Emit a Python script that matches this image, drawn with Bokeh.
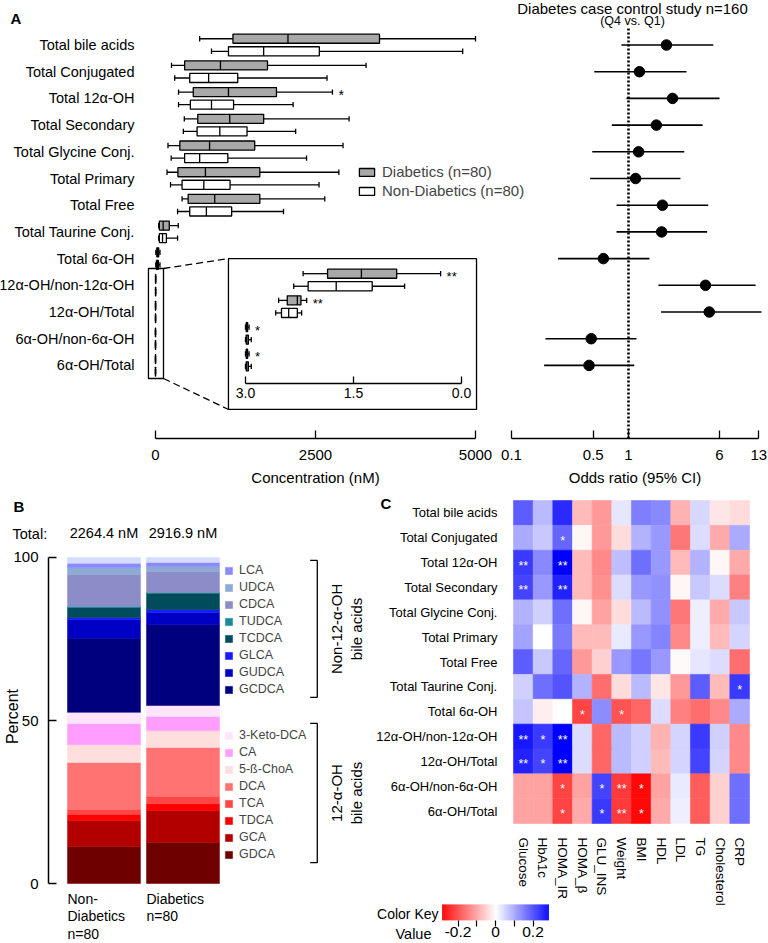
import math
import numpy as np
from bokeh.plotting import figure
from bokeh.layouts import row, column
from bokeh.models import (Range1d, FixedTicker, Label, Legend, LegendItem, ColumnDataSource,
                          LinearColorMapper, LinearAxis, LogAxis, LogScale)
from bokeh.transform import transform
from bokeh.core.properties import value
from bokeh.embed import file_html
from bokeh.resources import INLINE

FONT = "Liberation Sans"

# ---------------------------------------------------------------- data: panel A (box plots)
rows = ["Total bile acids", "Total Conjugated", "Total 12α-OH", "Total Secondary",
        "Total Glycine Conj.", "Total Primary", "Total Free", "Total Taurine Conj.",
        "Total 6α-OH", "12α-OH/non-12α-OH", "12α-OH/Total", "6α-OH/non-6α-OH", "6α-OH/Total"]
n_conc = 9  # first 9 rows are concentrations (nM); the others are ratios (shown in the inset)
dia_lo  = [690, 250, 360, 450, 195, 180, 415, 50, 5, 0.80, 0.46, 0.00, 0.00]
dia_q1  = [1210, 455, 590, 660, 380, 350, 510, 60, 20, 1.14, 0.58, 0.01, 0.01]
dia_med = [2070, 1015, 1140, 1160, 845, 780, 925, 120, 35, 1.61, 0.72, 0.02, 0.02]
dia_q3  = [3500, 1750, 1890, 1690, 1550, 1630, 1630, 215, 50, 2.10, 0.77, 0.03, 0.03]
dia_hi  = [5000, 3290, 2765, 3025, 2930, 2865, 2645, 355, 70, 2.71, 0.85, 0.05, 0.05]
non_lo  = [875, 300, 360, 435, 245, 235, 345, 50, 5, 0.67, 0.42, 0.00, 0.00]
non_q1  = [1140, 535, 545, 650, 455, 415, 535, 60, 15, 0.87, 0.50, 0.01, 0.01]
non_med = [1690, 830, 875, 1005, 690, 755, 795, 110, 30, 1.26, 0.60, 0.02, 0.02]
non_q3  = [2560, 1285, 1220, 1430, 1130, 1165, 1190, 170, 45, 1.76, 0.72, 0.04, 0.04]
non_hi  = [4800, 2680, 2150, 2190, 2360, 2555, 2000, 345, 70, 2.21, 0.78, 0.08, 0.08]
sig_marks = ["", "", "*", "", "", "", "", "", "", "**", "**", "*", "*"]
conc_ticks = [0, 2500, 5000]
inset_ticks = [0, 1.5, 3]
inset_tick_labels = {0: "3.0", 1.5: "1.5", 3: "0.0"}

# ---------------------------------------------------------------- data: forest plot
or_est = [2.11, 1.24, 2.38, 1.73, 1.22, 1.15, 1.95, 1.92, 0.61, 4.55, 4.90, 0.48, 0.46]
or_lo  = [0.87, 0.51, 0.96, 0.72, 0.49, 0.47, 0.79, 0.79, 0.25, 1.80, 1.90, 0.195, 0.19]
or_hi  = [5.30, 3.13, 6.00, 4.30, 3.00, 2.78, 4.80, 4.70, 1.51, 12.2, 13.7, 1.17, 1.12]
or_ticks = [0.1, 0.5, 1, 6, 13]

# ---------------------------------------------------------------- data: panel B (composition)
group_x = [0, 1]
group_labels = ["Non-\nDiabetics\nn=80", "Diabetics\nn=80"]
group_totals = ["2264.4 nM", "2916.9 nM"]
species = ["GDCA", "GCA", "TDCA", "TCA", "DCA", "5-ß-ChoA", "CA", "3-Keto-DCA",
           "GCDCA", "GUDCA", "GLCA", "TCDCA", "TUDCA", "CDCA", "UDCA", "LCA", "Other"]
pct_non = [11.3, 8.0, 1.9, 1.5, 14.4, 5.5, 6.5, 3.4, 22.7, 5.8, 0.6, 3.1, 0.3, 9.8, 2.1, 1.3, 1.8]
pct_dia = [12.6, 9.8, 2.1, 2.2, 15.0, 5.2, 4.3, 3.4, 24.8, 3.7, 0.9, 5.0, 0.3, 6.4, 1.5, 1.3, 1.5]
species_colors = ["#6e0000", "#b20000", "#ff0000", "#ff4545", "#ff7373", "#ffdede", "#ff9eff",
                  "#ffe4ff", "#00007f", "#0000c4", "#1a1aff", "#004c5c", "#1a8a9a", "#8c8cc8",
                  "#8fabd4", "#8a8aff", "#d6dcff"]
legend_non12 = ["LCA", "UDCA", "CDCA", "TUDCA", "TCDCA", "GLCA", "GUDCA", "GCDCA"]
legend_12 = ["3-Keto-DCA", "CA", "5-ß-ChoA", "DCA", "TCA", "TDCA", "GCA", "GDCA"]
pct_ticks = [0, 50, 100]

# ---------------------------------------------------------------- data: panel C (correlations)
heat_cols = ["Glucose", "HbA1c", "HOMA_IR", "HOMA_β", "GLU_INS", "Weight", "BMI", "HDL",
             "LDL", "TG", "Cholesterol", "CRP"]
corr = [
    [0.19, 0.08, 0.25, -0.08, -0.12, 0.03, 0.15, 0.14, -0.09, 0.045, -0.03, -0.04],
    [0.10, 0.065, 0.18, -0.01, -0.12, -0.04, 0.09, 0.12, -0.16, 0.04, -0.10, 0.10],
    [0.23, 0.14, 0.30, -0.08, -0.14, 0.075, 0.17, 0.12, -0.08, 0.09, -0.01, -0.10],
    [0.22, 0.12, 0.26, -0.08, -0.13, 0.04, 0.12, 0.13, -0.01, 0.065, 0.04, -0.15],
    [0.09, 0.055, 0.17, -0.01, -0.11, -0.04, 0.08, 0.13, -0.16, 0.02, -0.10, 0.065],
    [0.11, 0.0, 0.155, -0.08, -0.08, 0.025, 0.12, 0.145, -0.14, 0.02, -0.08, 0.05],
    [0.19, 0.065, 0.18, -0.12, -0.055, 0.12, 0.16, 0.12, -0.005, 0.03, 0.04, -0.17],
    [0.055, 0.17, 0.20, 0.09, -0.17, -0.04, 0.08, -0.03, -0.12, 0.19, -0.08, 0.23],
    [0.07, -0.02, 0.0, -0.22, 0.135, -0.20, -0.18, 0.04, -0.15, -0.17, -0.14, 0.10],
    [0.27, 0.23, 0.30, 0.04, -0.18, 0.08, 0.055, -0.09, 0.05, 0.23, 0.055, -0.14],
    [0.26, 0.22, 0.30, 0.04, -0.18, 0.08, 0.055, -0.08, 0.05, 0.22, 0.05, -0.14],
    [-0.11, -0.11, -0.22, -0.11, 0.22, -0.23, -0.29, -0.11, 0.025, -0.19, -0.055, 0.17],
    [-0.11, -0.11, -0.22, -0.10, 0.23, -0.23, -0.29, -0.10, 0.02, -0.19, -0.055, 0.17],
]
corr_sig = [
    ["", "", "", "", "", "", "", "", "", "", "", ""],
    ["", "", "*", "", "", "", "", "", "", "", "", ""],
    ["**", "", "**", "", "", "", "", "", "", "", "", ""],
    ["**", "", "**", "", "", "", "", "", "", "", "", ""],
    ["", "", "", "", "", "", "", "", "", "", "", ""],
    ["", "", "", "", "", "", "", "", "", "", "", ""],
    ["", "", "", "", "", "", "", "", "", "", "", ""],
    ["", "", "", "", "", "", "", "", "", "", "", "*"],
    ["", "", "", "*", "", "*", "", "", "", "", "", ""],
    ["**", "*", "**", "", "", "", "", "", "", "", "", ""],
    ["**", "*", "**", "", "", "", "", "", "", "", "", ""],
    ["", "", "*", "", "*", "**", "*", "", "", "", "", ""],
    ["", "", "*", "", "*", "**", "*", "", "", "", "", ""],
]
key_ticks = [-0.2, -0.1, 0, 0.1, 0.2]
key_labels = {-0.2: "-0.2", -0.1: "", 0: "0", 0.1: "", 0.2: "0.2"}

# ---------------------------------------------------------------- helpers
def base_fig(**kw):
    p = figure(output_backend="svg", toolbar_location=None, min_border_left=0,
               min_border_right=0, min_border_top=0, min_border_bottom=0, **kw)
    p.xgrid.visible = False
    p.ygrid.visible = False
    p.outline_line_color = None
    p.background_fill_color = "white"
    p.border_fill_color = "white"
    return p


def style_axis(ax, size="14px"):
    ax.major_label_text_font = FONT
    ax.major_label_text_font_size = size
    ax.major_label_text_color = "black"
    ax.axis_label_text_font = FONT
    ax.axis_label_text_font_size = size
    ax.axis_label_text_font_style = "normal"
    ax.axis_label_text_color = "black"
    ax.axis_line_color = "black"
    ax.major_tick_line_color = "black"
    ax.minor_tick_line_color = None


def label(p, x, y, text, size, align="left", baseline="middle", bold=False, angle=0.0):
    p.add_layout(Label(x=x, y=y, x_units="screen", y_units="screen", text=text,
                       text_font=FONT, text_font_size=size, text_align=align,
                       text_baseline=baseline, angle=angle, text_color="black",
                       text_font_style="bold" if bold else "normal"))


# ---------------------------------------------------------------- panel A + forest (one canvas)
n = len(rows)
ROW_Y = [-i for i in range(n)]
OFF, BOX_H, CAP_H, LW = 0.235, 0.34, 0.2, 1.3
A_X = (-2421.9, 9578.1)          # concentration scale across the 768 px canvas
A_Y = (-16.685, 1.667)           # row units across the 490 px canvas
AXIS_Y = -14.738                 # where both bottom axes sit
LABEL_AXIS_X = -109.4
INSET_V0, INSET_PER_UNIT = 1406.0, 1125.0
OR_RANGE = (10 ** (-628 / 117.0), 10 ** (140 / 117.0))

pa = base_fig(width=768, height=490, x_range=Range1d(*A_X), y_range=Range1d(*A_Y))
pa.extra_x_ranges = {"inset": Range1d((A_X[0] - INSET_V0) / INSET_PER_UNIT,
                                      (A_X[1] - INSET_V0) / INSET_PER_UNIT),
                     "or": Range1d(*OR_RANGE)}
pa.extra_x_scales = {"or": LogScale()}


def boxes(p, ys, lo, q1, med, q3, hi, fill, rng="default"):
    src = ColumnDataSource(dict(y=ys, lo=lo, q1=q1, med=med, q3=q3, hi=hi,
                                yb=[y - BOX_H / 2 for y in ys], yt=[y + BOX_H / 2 for y in ys],
                                cb=[y - CAP_H / 2 for y in ys], ct=[y + CAP_H / 2 for y in ys]))
    kw = dict(source=src, line_color="black", line_width=LW, x_range_name=rng)
    p.segment(x0="lo", y0="y", x1="q1", y1="y", **kw)
    p.segment(x0="q3", y0="y", x1="hi", y1="y", **kw)
    p.segment(x0="lo", y0="cb", x1="lo", y1="ct", **kw)
    p.segment(x0="hi", y0="cb", x1="hi", y1="ct", **kw)
    r = p.hbar(y="y", height=BOX_H, left="q1", right="q3", fill_color=fill, **kw)
    p.segment(x0="med", y0="yb", x1="med", y1="yt", **kw)
    return r


GRAY = "#a8a8a8"
r_dia = boxes(pa, [y + OFF for y in ROW_Y], dia_lo, dia_q1, dia_med, dia_q3, dia_hi, GRAY)
r_non = boxes(pa, [y - OFF for y in ROW_Y], non_lo, non_q1, non_med, non_q3, non_hi, "white")

INSET_DY = 0.2
ir = list(range(n_conc, n))
boxes(pa, [ROW_Y[i] + OFF + INSET_DY for i in ir], [dia_lo[i] for i in ir], [dia_q1[i] for i in ir],
      [dia_med[i] for i in ir], [dia_q3[i] for i in ir], [dia_hi[i] for i in ir], GRAY, "inset")
boxes(pa, [ROW_Y[i] - OFF + INSET_DY for i in ir], [non_lo[i] for i in ir], [non_q1[i] for i in ir],
      [non_med[i] for i in ir], [non_q3[i] for i in ir], [non_hi[i] for i in ir], "white", "inset")

main_sig = [i for i in range(n_conc) if sig_marks[i]]
pa.text(x=[dia_hi[i] for i in main_sig], y=[ROW_Y[i] + OFF for i in main_sig],
        text=[sig_marks[i] for i in main_sig], text_font=value(FONT), text_font_size="14px",
        text_baseline="middle", x_offset=6, y_offset=3, text_color="black")
ins_sig = [i for i in ir if sig_marks[i]]
pa.text(x=[dia_hi[i] for i in ins_sig], y=[ROW_Y[i] + OFF + INSET_DY for i in ins_sig],
        text=[sig_marks[i] for i in ins_sig], text_font=value(FONT), text_font_size="13px",
        text_baseline="middle", x_offset=6, y_offset=3, text_color="black", x_range_name="inset")

# zoom rectangle, inset frame and connectors
ZR_L, ZR_R = -110.0, 125.0
zr_top, zr_bot = ROW_Y[n_conc] + 0.63, ROW_Y[-1] - 0.49
IN_L, IN_R, IN_T, IN_B = 1140.0, 5016.0, -8.0, -13.65
pa.quad(left=[ZR_L], right=[ZR_R], top=[zr_top], bottom=[zr_bot], fill_color=None,
        line_color="black", line_width=LW)
pa.quad(left=[IN_L], right=[IN_R], top=[IN_T], bottom=[IN_B], fill_color=None,
        line_color="black", line_width=LW)
pa.segment(x0=[ZR_R, ZR_R], y0=[zr_top, zr_bot], x1=[IN_L, IN_L], y1=[IN_T, IN_B],
           line_color="black", line_width=1.3, line_dash="7 4")

# inset axis (inside the plot)
IAX_Y = -12.68
iax = LinearAxis(x_range_name="inset", fixed_location=IAX_Y, ticker=FixedTicker(ticks=inset_ticks),
                 major_label_overrides=inset_tick_labels, bounds=(inset_ticks[0], inset_ticks[-1]))
style_axis(iax, "14px")
iax.major_tick_in = 7
iax.major_tick_out = 0
iax.axis_line_width = LW
iax.major_tick_line_width = LW
iax.major_label_standoff = 4
pa.add_layout(iax, "below")

# concentration axis
cax = pa.xaxis[0]
style_axis(cax, "15px")
cax.fixed_location = AXIS_Y
cax.ticker = FixedTicker(ticks=conc_ticks)
cax.bounds = (conc_ticks[0], conc_ticks[-1])
cax.major_tick_in = 8
cax.major_tick_out = 0
cax.axis_line_width = 1.3
cax.major_tick_line_width = 1.3
cax.major_label_standoff = 11
cax.axis_label = "Concentration (nM)"
cax.axis_label_standoff = 6

# row labels
yax = pa.yaxis[0]
style_axis(yax, "14.5px")
yax.fixed_location = LABEL_AXIS_X
yax.ticker = FixedTicker(ticks=ROW_Y)
yax.major_label_overrides = {ROW_Y[i]: rows[i] for i in range(n)}
yax.axis_line_color = None
yax.major_tick_line_color = None
yax.major_label_standoff = 8

leg_a = Legend(items=[LegendItem(label="Diabetics (n=80)", renderers=[r_dia]),
                      LegendItem(label="Non-Diabetics (n=80)", renderers=[r_non])],
               location=(357, 291), glyph_width=19, glyph_height=10, label_height=16,
               spacing=2, label_standoff=6, padding=0, margin=0,
               label_text_font=FONT, label_text_font_size="15px",
               border_line_color=None, background_fill_alpha=0)
pa.add_layout(leg_a)
label(pa, 10, 472, "A", "15px", bold=True)

# forest plot (log odds-ratio scale)
REF_OR, REF_TOP = 1, 0.69
pa.segment(x0=[REF_OR], x1=[REF_OR], y0=[AXIS_Y], y1=[REF_TOP], line_color="black",
           line_width=2.6, line_dash="2 2", x_range_name="or")
pa.segment(x0=or_lo, x1=or_hi, y0=ROW_Y, y1=ROW_Y, line_color="black", line_width=1.6,
           x_range_name="or")
pa.scatter(x=or_est, y=ROW_Y, size=10.5, color="black", x_range_name="or")
oax = LogAxis(x_range_name="or", fixed_location=AXIS_Y, ticker=FixedTicker(ticks=or_ticks),
              major_label_overrides={t: str(t) for t in or_ticks},
              bounds=(or_ticks[0], or_ticks[-1]))
style_axis(oax, "15px")
oax.major_tick_in = 8
oax.major_tick_out = 0
oax.axis_line_width = 1.3
oax.major_tick_line_width = 1.3
oax.major_label_standoff = 11
oax.axis_label = "Odds ratio (95% CI)"
oax.axis_label_standoff = 6
pa.add_layout(oax, "below")
label(pa, 632, 482, "Diabetes case control study n=160", "15px", align="center")
label(pa, 632, 470, "(Q4 vs. Q1)", "12.5px", align="center")

# ---------------------------------------------------------------- panel B
BAR_W = 0.924
PCT_AXIS_X = -0.7025
pb = base_fig(width=375, height=453, x_range=Range1d(-1.310, 3.437),
              y_range=Range1d(-18.4, 120.55))
src_b = ColumnDataSource(dict(x=group_x, **{sp: [pct_non[k], pct_dia[k]]
                                            for k, sp in enumerate(species)}))
rs = pb.vbar_stack(species, x="x", width=BAR_W, color=species_colors, source=src_b,
                   line_width=0.5)
rmap = dict(zip(species, rs))
TOTAL_Y, GLAB_Y = 107.4, -2.2
pb.text(x=group_x, y=[TOTAL_Y] * 2, text=group_totals, text_font=value(FONT),
        text_font_size="14.5px", text_align="center", text_baseline="middle", text_color="black")
pb.text(x=[g - BAR_W / 2 for g in group_x], y=[GLAB_Y] * 2, text=group_labels,
        text_font=value(FONT), text_font_size="14px", text_align="left", text_baseline="top",
        text_line_height=1.1, text_color="black")

leg_kw = dict(glyph_width=9, glyph_height=9, label_height=14, spacing=3, label_standoff=6,
              padding=0, margin=0, label_text_font=FONT, label_text_font_size="12.5px",
              border_line_color=None, background_fill_alpha=0)
pb.add_layout(Legend(items=[LegendItem(label=s, renderers=[rmap[s]]) for s in legend_non12],
                     location=(224, 247), **leg_kw))
pb.add_layout(Legend(items=[LegendItem(label=s, renderers=[rmap[s]]) for s in legend_12],
                     location=(224, 82), **leg_kw))

BR_X, BR_TICK = 2.70, 0.09
brackets = [(99.1, 57.1), (49.1, 6.4)]
pb.multi_line(xs=[[BR_X - BR_TICK, BR_X, BR_X, BR_X - BR_TICK] for _ in brackets],
              ys=[[t, t, b, b] for t, b in brackets], line_color="black", line_width=1.3)
pb.text(x=[3.07, 3.07], y=[(t + b) / 2 for t, b in brackets],
        text=["Non-12-α-OH\nbile acids", "12-α-OH\nbile acids"], angle=math.pi / 2,
        text_font=value(FONT), text_font_size="15px", text_align="center",
        text_baseline="middle", text_line_height=1.15, text_color="black")

bax = pb.yaxis[0]
style_axis(bax, "15px")
bax.fixed_location = PCT_AXIS_X
bax.ticker = FixedTicker(ticks=pct_ticks)
bax.bounds = (pct_ticks[0], pct_ticks[-1])
bax.major_tick_in = 8
bax.major_tick_out = 0
bax.axis_line_width = 1.5
bax.major_tick_line_width = 1.5
bax.major_label_standoff = 10
pb.xaxis.visible = False
label(pb, 13, 437, "B", "15px", bold=True)
label(pb, 12, 410, "Total:", "14.5px")
label(pb, 12, 227, "Percent", "16px", align="center", angle=math.pi / 2)

# ---------------------------------------------------------------- panel C
pal = []
for i in range(256):
    t = i / 255.0
    if t < 0.5:
        u = t / 0.5
        rgb = (255, int(round(255 * u)), int(round(255 * u)))
    else:
        u = (t - 0.5) / 0.5
        rgb = (int(round(255 * (1 - u))), int(round(255 * (1 - u))), 255)
    pal.append("#%02x%02x%02x" % rgb)
mapper = LinearColorMapper(palette=pal, low=-0.3, high=0.3)

col_x = list(range(len(heat_cols)))
row_y = [-i for i in range(len(rows))]
pc = base_fig(width=393, height=453, x_range=Range1d(-7.515, 12.466),
              y_range=Range1d(-17.33, 0.903))
hx, hy, hv, hs = [], [], [], []
for ri in range(len(rows)):
    for ci in range(len(heat_cols)):
        hx.append(col_x[ci])
        hy.append(row_y[ri])
        hv.append(corr[ri][ci])
        hs.append(corr_sig[ri][ci])
src_c = ColumnDataSource(dict(x=hx, y=hy, v=hv, s=hs))
pc.rect(x="x", y="y", width=1, height=1, source=src_c, fill_color=transform("v", mapper),
        line_color=transform("v", mapper), line_width=0.6)
pc.text(x="x", y="y", text="s", source=src_c, text_color="white", text_font=value(FONT),
        text_font_size="12.5px", text_align="center", text_baseline="middle", y_offset=3)

HEAT_LEFT, HEAT_BOTTOM = col_x[0] - 0.5, row_y[-1] - 0.5
cx = pc.xaxis[0]
cy = pc.yaxis[0]
style_axis(cx, "13.5px")
style_axis(cy, "13px")
for ax in (cx, cy):
    ax.axis_line_color = None
    ax.major_tick_line_color = None
cx.fixed_location = HEAT_BOTTOM
cx.ticker = FixedTicker(ticks=col_x)
cx.major_label_overrides = {col_x[i]: heat_cols[i] for i in range(len(heat_cols))}
cx.major_label_orientation = "vertical"
cx.major_label_standoff = 8
cy.fixed_location = HEAT_LEFT
cy.ticker = FixedTicker(ticks=row_y)
cy.major_label_overrides = {row_y[i]: rows[i] for i in range(len(rows))}
cy.major_label_standoff = 10

# colour key inside the same panel
KEY_LO, KEY_HI = -0.285, 0.285
KEY_Y0, KEY_H = -16.40, 0.644
pc.extra_x_ranges = {"key": Range1d(-0.64, 1.456)}
grad = np.linspace(KEY_LO, KEY_HI, 256).reshape(1, -1)
pc.image(image=[grad], x=KEY_LO, y=KEY_Y0, dw=KEY_HI - KEY_LO, dh=KEY_H, color_mapper=mapper,
         x_range_name="key")
kax = LinearAxis(x_range_name="key", fixed_location=KEY_Y0, ticker=FixedTicker(ticks=key_ticks),
                 major_label_overrides=key_labels)
style_axis(kax, "15.5px")
kax.axis_line_color = None
kax.major_tick_in = 0
kax.major_tick_out = 6
kax.major_tick_line_width = 1.2
kax.major_label_standoff = 1
pc.add_layout(kax, "below")
label(pc, 5, 440, "C", "15px", bold=True)
label(pc, 63, 30, "Color Key", "14px", align="right")
label(pc, 56, 10, "Value", "14.5px", align="right")

layout = column(pa, row(pb, pc))
open("out.html", "w").write(file_html(layout, INLINE))
